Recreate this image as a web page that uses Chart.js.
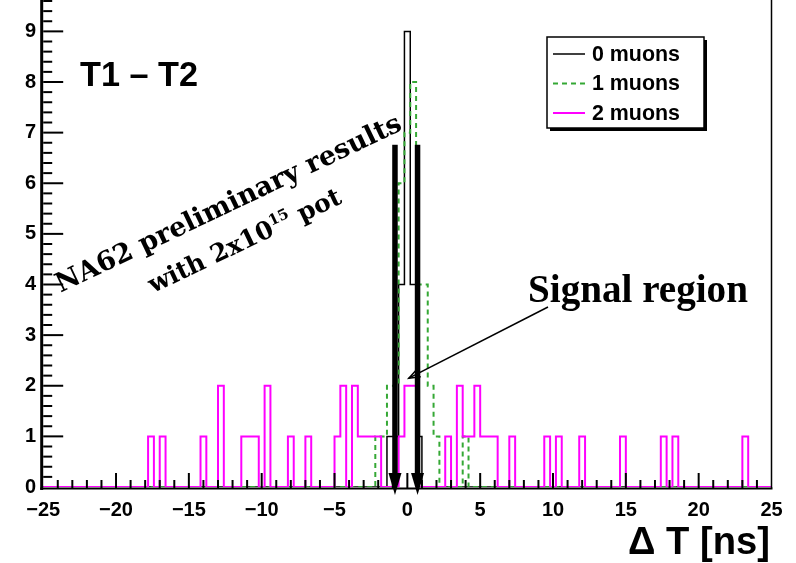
<!DOCTYPE html>
<html>
<head>
<meta charset="utf-8">
<script src="https://cdn.jsdelivr.net/npm/chart.js@4.4.1/dist/chart.umd.min.js"></script>
<style>
  html, body { margin: 0; padding: 0; background: #fff; }
  #wrap { width: 796px; height: 563px; }
</style>
</head>
<body>
<div id="wrap"><canvas id="myChart" width="796" height="563"></canvas></div>
<script>
// ===== Binning: -25..25 ns, 0.4 ns bins =====
const binMin = -25, binMax = 25, binWidth = 0.4;
const xTickLabels = [-25, -20, -15, -10, -5, 0, 5, 10, 15, 20, 25];
const yTickLabels = [0, 1, 2, 3, 4, 5, 6, 7, 8, 9];

// ===== Non-empty bins: lower edge + count =====
const mu0Edges  = [-1.4, -1.0, -0.6, -0.2, 0.2, 0.6];
const mu0Counts = [1, 1, 4, 9, 4, 1];

const mu1Edges  = [-2.2, -1.8, -1.4, -1.0, -0.6, -0.2, 0.2, 0.6, 1.0, 1.4, 1.8, 3.8];
const mu1Counts = [1, 1, 2, 2, 6, 7, 8, 4, 4, 2, 1, 1];

const mu2Edges  = [-17.8, -17.0, -14.2, -13.0, -11.4, -11.0, -10.6, -9.8, -8.2, -7.0,
                   -5.0, -4.6, -3.8, -3.4, -3.0, -2.6, -2.2, -0.6, -0.2, 0.2,
                   2.6, 3.4, 3.8, 4.2, 4.6, 5.0, 5.4, 5.8, 7.0, 9.4,
                   10.2, 11.8, 14.6, 17.4, 18.2, 23.0];
const mu2Counts = [1, 1, 1, 2, 1, 1, 1, 2, 1, 1,
                   1, 2, 2, 1, 1, 1, 1, 1, 2, 2,
                   1, 2, 1, 1, 2, 1, 1, 1, 1, 1,
                   1, 1, 1, 1, 1, 1];

// signal region cut arrows (ns)
const cutLow = -0.85, cutHigh = 0.7;

const GREEN = '#35a835', MAGENTA = '#ff00ff';

// ===== Turn sparse bins into step points =====
function histPoints(edges, counts) {
  const n = Math.round((binMax - binMin) / binWidth);
  const c = new Array(n).fill(0);
  edges.forEach((e, i) => { c[Math.round((e - binMin) / binWidth)] = counts[i]; });
  const pts = c.map((v, k) => ({ x: binMin + k * binWidth, y: v }));
  pts.push({ x: binMax, y: c[n - 1] });
  return pts;
}

// font size that makes txt exactly w pixels wide
function fitFont(ctx, txt, weight, family, w) {
  ctx.font = weight + ' 100px ' + family;
  const s = 100 * w / ctx.measureText(txt).width;
  return weight + ' ' + s.toFixed(2) + 'px ' + family;
}

function drawArrow(ctx, x, yTop, yTip, shaftW, headW, headL) {
  ctx.fillStyle = '#000';
  ctx.fillRect(x - shaftW / 2, yTop, shaftW, yTip - headL - yTop + 1);
  ctx.beginPath();
  ctx.moveTo(x - headW / 2, yTip - headL);
  ctx.lineTo(x + headW / 2, yTip - headL);
  ctx.lineTo(x, yTip);
  ctx.closePath();
  ctx.fill();
}

// ===== Frame, ticks, arrows, texts, legend =====
const decor = {
  id: 'decor',
  afterDatasetsDraw(chart) {
    const ctx = chart.ctx, a = chart.chartArea;
    const xs = chart.scales.x, ys = chart.scales.y;
    ctx.save();

    // frame
    ctx.strokeStyle = '#000';
    ctx.lineWidth = 3;
    ctx.beginPath(); ctx.moveTo(a.left - 1.5, 0); ctx.lineTo(a.left - 1.5, a.bottom + 3); ctx.stroke();
    ctx.lineWidth = 2;
    ctx.beginPath(); ctx.moveTo(a.left - 3, a.bottom + 1.5); ctx.lineTo(a.right + 1, a.bottom + 1.5); ctx.stroke();
    ctx.lineWidth = 1.5;
    ctx.beginPath(); ctx.moveTo(a.right, 0); ctx.lineTo(a.right, a.bottom + 1); ctx.stroke();

    // x ticks (inside)
    ctx.lineWidth = 2;
    for (let v = binMin + 1; v < binMax; v++) {
      const px = xs.getPixelForValue(v), len = (v % 5 === 0) ? 14 : 7;
      ctx.beginPath(); ctx.moveTo(px, a.bottom + 1); ctx.lineTo(px, a.bottom - len); ctx.stroke();
    }
    // y ticks (inside)
    for (let i = 1; i <= 48; i++) {
      const v = i * 0.2, py = ys.getPixelForValue(v), len = (i % 5 === 0) ? 20 : 9;
      ctx.beginPath(); ctx.moveTo(a.left, py); ctx.lineTo(a.left + len, py); ctx.stroke();
    }

    // signal region arrows
    const yTop = ys.getPixelForValue(6.76), yTip = a.bottom + 8;
    drawArrow(ctx, xs.getPixelForValue(cutLow), yTop, yTip, 5.5, 13, 22);
    drawArrow(ctx, xs.getPixelForValue(cutHigh), yTop, yTip, 5.5, 13, 22);

    // thin arrow from label
    const sx = 548, sy = 307, ex = xs.getPixelForValue(0.1), ey = ys.getPixelForValue(2.15);
    ctx.strokeStyle = '#000'; ctx.lineWidth = 1.5;
    ctx.beginPath(); ctx.moveTo(sx, sy); ctx.lineTo(ex, ey); ctx.stroke();
    const ang = Math.atan2(ey - sy, ex - sx);
    ctx.beginPath();
    ctx.moveTo(ex - 12 * Math.cos(ang - 0.35), ey - 12 * Math.sin(ang - 0.35));
    ctx.lineTo(ex, ey);
    ctx.lineTo(ex - 12 * Math.cos(ang + 0.35), ey - 12 * Math.sin(ang + 0.35));
    ctx.stroke();

    // texts
    ctx.fillStyle = '#000';
    ctx.textBaseline = 'alphabetic';
    ctx.textAlign = 'left';
    ctx.font = fitFont(ctx, 'T1 \u2013 T2', 'bold', '"Liberation Sans", Arial, sans-serif', 118);
    ctx.fillText('T1 \u2013 T2', 80, 86);

    ctx.font = fitFont(ctx, 'Signal region', 'bold', '"Liberation Serif", serif', 220);
    ctx.fillText('Signal region', 528, 302);

    ctx.textAlign = 'right';
    ctx.font = fitFont(ctx, '\u0394 T [ns]', 'bold', '"Liberation Sans", Arial, sans-serif', 142);
    ctx.fillText('\u0394 T [ns]', 770, 554);

    // rotated watermark
    ctx.save();
    ctx.translate(232, 211);
    ctx.rotate(-25.5 * Math.PI / 180);
    ctx.textAlign = 'center';
    const serif = '"DejaVu Serif", "Liberation Serif", serif';
    ctx.font = fitFont(ctx, 'NA62 preliminary results', 'bold', serif, 380);
    ctx.fillText('NA62 preliminary results', 0, 0);
    ctx.restore();

    ctx.save();
    ctx.translate(248, 248);
    ctx.rotate(-25.5 * Math.PI / 180);
    ctx.textAlign = 'left';
    const f2 = fitFont(ctx, 'with 2x10 pot', 'bold', serif, 190);
    ctx.font = f2;
    const p1 = 'with 2x10', p3 = ' pot';
    const size2 = parseFloat(f2.split(' ')[1]);
    const w1 = ctx.measureText(p1).width, w3 = ctx.measureText(p3).width;
    ctx.font = 'bold ' + (size2 * 0.6).toFixed(2) + 'px ' + serif;
    const w2 = ctx.measureText('15').width;
    const x0 = -(w1 + w2 + w3) / 2;
    ctx.font = f2;
    ctx.fillText(p1, x0, 0);
    ctx.fillText(p3, x0 + w1 + w2, 0);
    ctx.font = 'bold ' + (size2 * 0.6).toFixed(2) + 'px ' + serif;
    ctx.fillText('15', x0 + w1, -size2 * 0.4);
    ctx.restore();

    // legend box with shadow
    const L = 547, T = 37, R = 704, B = 128;
    ctx.fillStyle = '#000';
    ctx.fillRect(L + 3, B, R - L, 3);
    ctx.fillRect(R, T + 3, 3, B - T);
    ctx.fillStyle = '#fff';
    ctx.fillRect(L, T, R - L, B - T);
    ctx.strokeStyle = '#000'; ctx.lineWidth = 1.5;
    ctx.strokeRect(L, T, R - L, B - T);
    const rows = [54, 83.5, 113];
    ctx.textAlign = 'left'; ctx.textBaseline = 'middle';
    chart.data.datasets.forEach(ds => {
      const y = rows[ds.legendRow];
      ctx.strokeStyle = ds.borderColor; ctx.lineWidth = ds.borderWidth;
      ctx.setLineDash(ds.borderDash || []);
      ctx.beginPath(); ctx.moveTo(553, y); ctx.lineTo(585, y); ctx.stroke();
      ctx.setLineDash([]);
      ctx.fillStyle = '#000';
      ctx.font = fitFont(ctx, '0 muons', 'bold', '"Liberation Sans", Arial, sans-serif', 88);
      ctx.fillText(ds.label, 592, y + 1);
    });

    ctx.restore();
  }
};

// ===== Chart.js Initialization =====
const ctx = document.getElementById('myChart').getContext('2d');
const tickFont = { family: '"Liberation Sans", Arial, sans-serif', size: 20, weight: 'bold' };

const chart = new Chart(ctx, {
  type: 'line',
  data: {
    datasets: [
      { label: '2 muons', data: histPoints(mu2Edges, mu2Counts), borderColor: MAGENTA,
        borderWidth: 2, stepped: 'before', pointRadius: 0, order: 1, legendRow: 2 },
      { label: '1 muons', data: histPoints(mu1Edges, mu1Counts), borderColor: GREEN,
        borderWidth: 2, borderDash: [5, 4], stepped: 'before', pointRadius: 0, order: 2, legendRow: 1 },
      { label: '0 muons', data: histPoints(mu0Edges, mu0Counts), borderColor: '#000',
        borderWidth: 1.5, stepped: 'before', pointRadius: 0, order: 3, legendRow: 0 }
    ]
  },
  options: {
    responsive: false,
    animation: false,
    devicePixelRatio: 1,
    layout: { padding: { top: 1, right: 24.5, left: 0, bottom: 0 } },
    plugins: { legend: { display: false }, tooltip: { enabled: false } },
    scales: {
      x: {
        type: 'linear', min: binMin, max: binMax,
        grid: { display: false, drawTicks: false }, border: { display: false },
        afterBuildTicks: s => { s.ticks = xTickLabels.map(v => ({ value: v })); },
        afterFit: s => { s.height = 76; s.paddingLeft = 0; s.paddingRight = 0; },
        ticks: { color: '#000', font: tickFont, padding: 11, maxRotation: 0,
                 callback: v => (v < 0 ? '\u2212' + Math.abs(v) : String(v)) }
      },
      y: {
        type: 'linear', min: 0, max: 9.6,
        grid: { display: false, drawTicks: false }, border: { display: false },
        afterBuildTicks: s => { s.ticks = yTickLabels.map(v => ({ value: v })); },
        afterFit: s => { s.width = 43.2; s.paddingTop = 0; s.paddingBottom = 0; },
        ticks: { color: '#000', font: tickFont, padding: 7 }
      }
    }
  },
  plugins: [decor]
});
</script>
</body>
</html>
